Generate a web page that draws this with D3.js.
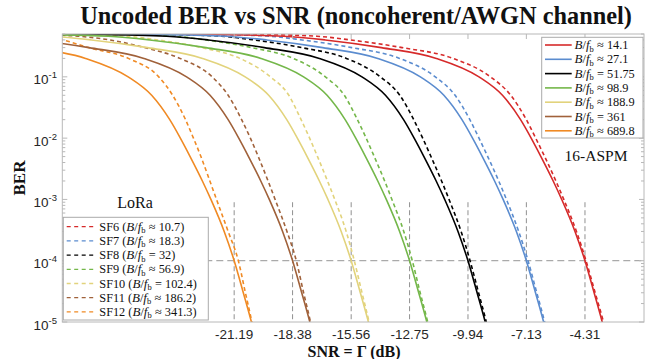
<!DOCTYPE html>
<html><head><meta charset="utf-8">
<script src="https://cdn.jsdelivr.net/npm/d3@7"></script>
<style>body{margin:0;background:#fff} svg{display:block}</style>
</head><body><svg id="c" width="646" height="359"></svg>
<script>
// ---------------- data ----------------
// BER levels at which each curve's SNR (dB) was read
const berLevels = [0.499, 0.49, 0.46, 0.4, 0.3, 0.2, 0.1, 0.05, 0.02, 0.01, 0.005, 0.002, 0.001, 3e-4, 1e-4, 3e-5, 1e-5, 4e-6];

// 16-ASPM (solid)
const aspmRel = ["≈", "≈", "=", "≈", "≈", "=", "≈"];
const aspmRatio = ["14.1", "27.1", "51.75", "98.9", "188.9", "361", "689.8"];
const aspmSnr141 = [-26.31, -22.11, -18.81, -16.81, -14.11, -11.46, -9.41, -8.28, -7.41, -6.90, -6.43, -5.84, -5.43, -4.79, -4.31, -3.87, -3.48, -3.19];
const aspmSnr271 = [-29.13, -24.93, -21.63, -19.63, -16.93, -14.28, -12.23, -11.10, -10.23, -9.72, -9.25, -8.66, -8.25, -7.61, -7.13, -6.69, -6.30, -6.01];
const aspmSnr5175 = [-31.94, -27.74, -24.44, -22.44, -19.74, -17.09, -15.04, -13.91, -13.04, -12.53, -12.06, -11.47, -11.06, -10.42, -9.94, -9.50, -9.11, -8.82];
const aspmSnr989 = [-34.75, -30.55, -27.25, -25.25, -22.55, -19.90, -17.85, -16.72, -15.85, -15.34, -14.87, -14.28, -13.87, -13.23, -12.75, -12.31, -11.92, -11.63];
const aspmSnr1889 = [-37.56, -33.36, -30.06, -28.06, -25.36, -22.71, -20.66, -19.53, -18.66, -18.15, -17.68, -17.09, -16.68, -16.04, -15.56, -15.12, -14.73, -14.44];
const aspmSnr361 = [-40.38, -36.18, -32.88, -30.88, -28.18, -25.53, -23.48, -22.35, -21.48, -20.97, -20.50, -19.91, -19.50, -18.86, -18.38, -17.94, -17.55, -17.26];
const aspmSnr6898 = [-43.19, -38.99, -35.69, -33.69, -30.99, -28.34, -26.29, -25.16, -24.29, -23.78, -23.31, -22.72, -22.31, -21.67, -21.19, -20.75, -20.36, -20.07];

// LoRa (dashed)
const loraSF = ["SF6", "SF7", "SF8", "SF9", "SF10", "SF11", "SF12"];
const loraRel = ["≈", "≈", "=", "≈", "=", "≈", "≈"];
const loraRatio = ["10.7", "18.3", "32", "56.9", "102.4", "186.2", "341.3"];
const loraSnrSF6 = [-23.31, -19.91, -17.21, -15.61, -13.11, -10.66, -8.86, -7.88, -7.13, -6.68, -6.25, -5.71, -5.33, -4.72, -4.26, -3.82, -3.42, -3.13];
const loraSnrSF7 = [-25.43, -22.10, -19.51, -17.93, -15.53, -13.23, -11.51, -10.56, -9.85, -9.41, -8.99, -8.46, -8.09, -7.50, -7.05, -6.63, -6.25, -5.97];
const loraSnrSF8 = [-27.54, -24.27, -21.81, -20.24, -17.94, -15.79, -14.16, -13.22, -12.55, -12.12, -11.72, -11.21, -10.85, -10.27, -9.84, -9.43, -9.06, -8.80];
const loraSnrSF9 = [-29.65, -26.45, -24.10, -22.55, -20.35, -18.35, -16.80, -15.89, -15.26, -14.84, -14.45, -13.95, -13.60, -13.03, -12.62, -12.24, -11.88, -11.62];
const loraSnrSF10 = [-31.76, -28.63, -26.39, -24.86, -22.76, -20.91, -19.45, -18.56, -17.97, -17.56, -17.18, -16.70, -16.35, -15.80, -15.41, -15.04, -14.70, -14.45];
const loraSnrSF11 = [-33.88, -30.81, -28.70, -27.18, -25.50, -23.80, -22.25, -21.48, -20.83, -20.41, -20.03, -19.56, -19.22, -18.65, -18.20, -17.85, -17.52, -17.29];
const loraSnrSF12 = [-36.0, -33.0, -31.0, -29.46, -28.2, -26.28, -24.82, -24.15, -23.53, -23.15, -22.79, -22.36, -22.04, -21.48, -20.99, -20.65, -20.34, -20.12];

// axis ticks / reference lines
const xTickValues = [-21.19, -18.38, -15.56, -12.75, -9.94, -7.13, -4.31];
const xTickLabels = ["-21.19", "-18.38", "-15.56", "-12.75", "-9.94", "-7.13", "-4.31"];
const yTickExponents = [-1, -2, -3, -4, -5];
const refBer = 1e-4;
const refLineTopBer = 9e-4;
const xDomain = [-29.46, -1.47];
const yDomain = [1e-5, 0.5];

// styles
const palette = ["#d62a2a", "#5b8ccf", "#000000", "#74b74a", "#e2d37c", "#a0613a", "#f08a24"];

// ---------------- chart ----------------
const svg = d3.select("#c");
const L = 62.3, R = 644, T = 34, B = 322;
const x = d3.scaleLinear().domain(xDomain).range([L, R]);
const y = d3.scaleLog().domain(yDomain).range([B, T]);

const aspmSnr = [aspmSnr141, aspmSnr271, aspmSnr5175, aspmSnr989, aspmSnr1889, aspmSnr361, aspmSnr6898];
const loraSnr = [loraSnrSF6, loraSnrSF7, loraSnrSF8, loraSnrSF9, loraSnrSF10, loraSnrSF11, loraSnrSF12];

svg.append("defs").append("clipPath").attr("id", "clip")
  .append("rect").attr("x", L).attr("y", T).attr("width", R - L).attr("height", B - T);

// reference lines
const refG = svg.append("g").attr("clip-path", "url(#clip)");
refG.selectAll("line.v").data(xTickValues).enter().append("line")
  .attr("x1", d => x(d)).attr("x2", d => x(d))
  .attr("y1", y(refLineTopBer)).attr("y2", B)
  .attr("stroke", "#909090").attr("stroke-width", 1).attr("stroke-dasharray", "5,3");
refG.append("line").attr("x1", L).attr("x2", R).attr("y1", y(refBer)).attr("y2", y(refBer))
  .attr("stroke", "#aaaaaa").attr("stroke-width", 1.2).attr("stroke-dasharray", "7,4");

const line = d3.line().x(d => x(d[0])).y(d => y(d[1])).curve(d3.curveMonotoneX);
const curveG = svg.append("g").attr("clip-path", "url(#clip)");
// dashed LoRa
loraSnr.forEach((arr, i) => {
  const pts = arr.map((s, k) => [s, berLevels[k]]);
  curveG.append("path").attr("d", line(pts)).attr("fill", "none")
    .attr("stroke", palette[i]).attr("stroke-width", 1.6).attr("stroke-dasharray", "4,3");
});
// solid ASPM
aspmSnr.forEach((arr, i) => {
  const pts = arr.map((s, k) => [s, berLevels[k]]);
  curveG.append("path").attr("d", line(pts)).attr("fill", "none")
    .attr("stroke", palette[i]).attr("stroke-width", 1.6);
});

// box
const axisCol = "#b8b8b8";
svg.append("rect").attr("x", L).attr("y", T).attr("width", R - L).attr("height", B - T)
  .attr("fill", "none").attr("stroke", axisCol).attr("stroke-width", 1);

// y ticks (major + minor, both sides)
const minor = [];
for (let e = -5; e <= -1; e++) for (let k = 2; k <= 9; k++) { const v = k * Math.pow(10, e); if (v <= yDomain[1]) minor.push(v); }
const majors = yTickExponents.map(e => Math.pow(10, e));
const tickG = svg.append("g").attr("stroke", axisCol).attr("stroke-width", 1);
majors.forEach(v => {
  tickG.append("line").attr("x1", L).attr("x2", L + 5).attr("y1", y(v)).attr("y2", y(v));
  tickG.append("line").attr("x1", R - 5).attr("x2", R).attr("y1", y(v)).attr("y2", y(v));
});
minor.forEach(v => {
  tickG.append("line").attr("x1", L).attr("x2", L + 3).attr("y1", y(v)).attr("y2", y(v));
  tickG.append("line").attr("x1", R - 3).attr("x2", R).attr("y1", y(v)).attr("y2", y(v));
});
xTickValues.forEach(v => {
  tickG.append("line").attr("x1", x(v)).attr("x2", x(v)).attr("y1", T).attr("y2", T + 5);
});

// tick labels
const sans = "'Liberation Sans', Arial, sans-serif";
const serif = "'Liberation Serif', 'Times New Roman', serif";
xTickValues.forEach((v, i) => {
  svg.append("text").attr("x", x(v)).attr("y", 339).attr("text-anchor", "middle")
    .attr("font-family", sans).attr("font-size", 13.5).attr("fill", "#262626").text(xTickLabels[i]);
});
yTickExponents.forEach(e => {
  const t = svg.append("text").attr("x", 57).attr("y", y(Math.pow(10, e)) + 7.5).attr("text-anchor", "end")
    .attr("font-family", sans).attr("font-size", 13.5).attr("fill", "#262626");
  t.append("tspan").text("10");
  t.append("tspan").attr("dy", -6).attr("font-size", 9.5).text(String(e));
});

// title & axis labels
const title = svg.append("text").attr("x", 356).attr("y", 24).attr("text-anchor", "middle")
  .attr("font-family", serif).attr("font-weight", "bold").attr("font-size", 22).attr("fill", "#111")
  .text("Uncoded BER vs SNR (noncoherent/AWGN channel)");
const tl = title.node().getComputedTextLength();
title.attr("font-size", 22 * 552 / tl);

svg.append("text").attr("x", 354).attr("y", 357).attr("text-anchor", "middle")
  .attr("font-family", serif).attr("font-weight", "bold").attr("font-size", 16).attr("fill", "#111")
  .text("SNR = Γ (dB)");
svg.append("text").attr("transform", "translate(25,178) rotate(-90)").attr("text-anchor", "middle")
  .attr("font-family", serif).attr("font-weight", "bold").attr("font-size", 17).attr("fill", "#111")
  .text("BER");

// annotations
svg.append("text").attr("x", 596).attr("y", 161).attr("text-anchor", "middle")
  .attr("font-family", serif).attr("font-size", 15.5).attr("fill", "#111").text("16-ASPM");
svg.append("text").attr("x", 135).attr("y", 208).attr("text-anchor", "middle")
  .attr("font-family", serif).attr("font-size", 16).attr("fill", "#111").text("LoRa");

function ratioText(t, prefix, rel, val) {
  if (prefix) t.append("tspan").text(prefix + " (");
  t.append("tspan").attr("font-style", "italic").attr("font-size", 13).text("B");
  t.append("tspan").text("/");
  t.append("tspan").attr("font-style", "italic").attr("font-size", 13).text("f");
  t.append("tspan").attr("font-size", 8.5).attr("dy", 2.5).text("b");
  t.append("tspan").attr("dy", -2.5).attr("dx", 3.2).text(rel);
  t.append("tspan").attr("dx", 3.2).text(val + (prefix ? ")" : ""));
}

// legend 1 (ASPM)
const lg1 = svg.append("g");
lg1.append("rect").attr("x", 541.7).attr("y", 37.3).attr("width", 101.3).attr("height", 100.7)
  .attr("fill", "#fff").attr("stroke", "#aaaaaa").attr("stroke-width", 1);
aspmRatio.forEach((r, i) => {
  const yy = 45 + i * 14.3;
  lg1.append("line").attr("x1", 545).attr("x2", 571.7).attr("y1", yy).attr("y2", yy)
    .attr("stroke", palette[i]).attr("stroke-width", 1.6);
  const t = lg1.append("text").attr("x", 574.5).attr("y", yy + 4)
    .attr("font-family", serif).attr("font-size", 12.3).attr("fill", "#111");
  ratioText(t, null, aspmRel[i], r);
});

// legend 2 (LoRa)
const lg2 = svg.append("g");
lg2.append("rect").attr("x", 63.3).attr("y", 217.3).attr("width", 145).attr("height", 102.7)
  .attr("fill", "#fff").attr("stroke", "#aaaaaa").attr("stroke-width", 1);
loraSF.forEach((sf, i) => {
  const yy = 226.7 + i * 14.2;
  lg2.append("line").attr("x1", 66.7).attr("x2", 94).attr("y1", yy).attr("y2", yy)
    .attr("stroke", palette[i]).attr("stroke-width", 1.3).attr("stroke-dasharray", "4,3.5");
  const t = lg2.append("text").attr("x", 99.3).attr("y", yy + 4)
    .attr("font-family", serif).attr("font-size", 12.3).attr("fill", "#111");
  ratioText(t, sf, loraRel[i], loraRatio[i]);
});
</script></body></html>
